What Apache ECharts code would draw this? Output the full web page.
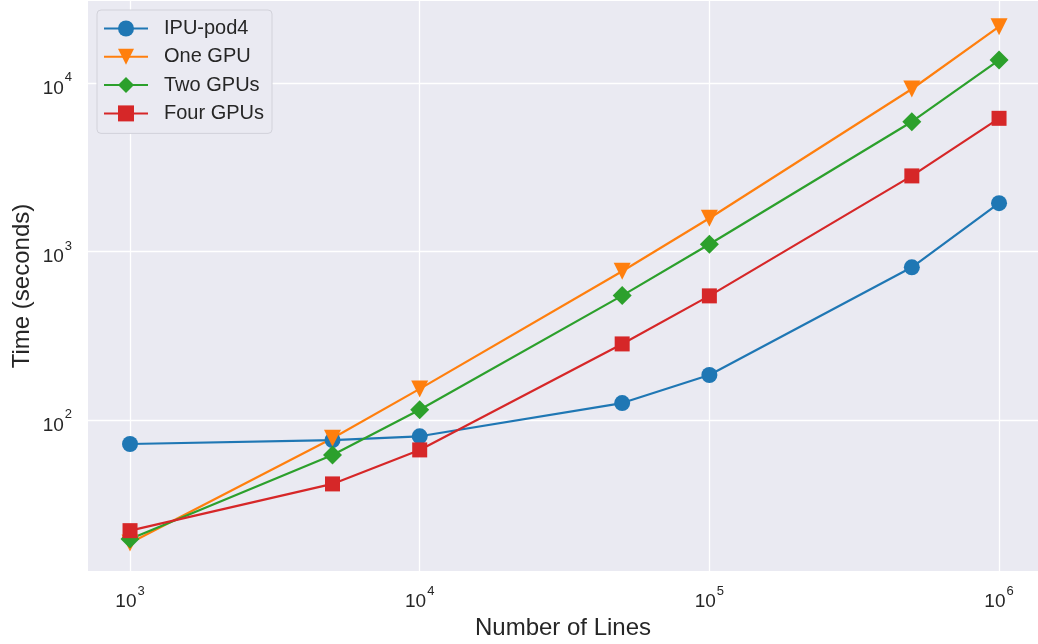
<!DOCTYPE html>
<html>
<head>
<meta charset="utf-8">
<script src="https://cdn.jsdelivr.net/npm/echarts@6/dist/echarts.min.js"></script>
<style>
  html, body { margin: 0; padding: 0; background: #fff; }
  #chart { width: 1038px; height: 644px; }
</style>
</head>
<body>
<div id="chart"></div>
<script>
// number of lines (x) and measured time in seconds (y)
var lines = [1000, 5000, 10000, 50000, 100000, 500000, 1000000];
var ipuPod4 = [72, 76, 80, 126, 185, 807, 1941];
var oneGpu = [18.6, 77.8, 153, 765, 1578, 9250, 21700];
var twoGpus = [19.6, 62, 115, 548, 1107, 5915, 13750];
var fourGpus = [22.0, 41.7, 66.4, 283, 546, 2818, 6195];

var textColor = "#262626";
var font = "Liberation Sans, Arial, sans-serif";

function pairs(ys) {
  return lines.map(function (x, i) {
    return [x, ys[i]];
  });
}

// 10^n label with superscript
function powLabel(v) {
  var e = Math.log10(v);
  var r = Math.round(e);
  if (Math.abs(e - r) > 1e-6) return "";
  return "{b|10}{s|" + r + "}";
}

var richLabel = {
  b: { fontSize: 19, color: textColor, fontFamily: font, lineHeight: 19, padding: [11, 0, 0, 0] },
  s: { fontSize: 13, color: textColor, fontFamily: font, lineHeight: 13, padding: [0, 0, 11, 1] }
};

function mkSeries(name, ys, color, symbol, size, rotate) {
  return {
    name: name,
    type: "line",
    data: pairs(ys),
    symbol: symbol,
    symbolSize: size,
    symbolRotate: rotate || 0,
    showAllSymbol: true,
    lineStyle: { color: color, width: 2.2 },
    itemStyle: { color: color, borderWidth: 0 },
    emphasis: { disabled: true },
    animation: false
  };
}

var myChart = echarts.init(document.getElementById("chart"));
myChart.setOption({
  backgroundColor: "#ffffff",
  textStyle: { fontFamily: font },
  grid: {
    left: 88,
    right: 0,
    top: 1,
    bottom: 73,
    outerBoundsMode: "none",
    containLabel: false,
    show: true,
    backgroundColor: "#eaeaf2",
    borderWidth: 0
  },
  legend: {
    orient: "vertical",
    left: 97,
    top: 10,
    padding: [8.5, 8, 10, 6],
    itemWidth: 44,
    itemHeight: 20,
    itemGap: 8.3,
    backgroundColor: "#eaeaf2",
    borderColor: "#d2d2da",
    borderWidth: 1,
    borderRadius: 4,
    textStyle: {
      fontSize: 20,
      lineHeight: 20,
      color: textColor,
      fontFamily: font,
      padding: [0, 0, 0, 11]
    },
    data: ["IPU-pod4", "One GPU", "Two GPUs", "Four GPUs"]
  },
  xAxis: {
    type: "log",
    logBase: 10,
    min: 716,
    max: 1363000,
    name: "Number of Lines",
    nameLocation: "middle",
    nameGap: 45,
    nameMoveOverlap: false,
    nameTextStyle: { fontSize: 24, color: textColor, fontFamily: font },
    axisLine: { show: false },
    axisTick: { show: false },
    minorTick: { show: false },
    axisLabel: {
      margin: 16,
      showMinLabel: false,
      showMaxLabel: false,
      formatter: powLabel,
      rich: richLabel
    },
    splitLine: {
      show: true,
      showMinLine: false,
      showMaxLine: false,
      lineStyle: { color: "#ffffff", width: 1.3 }
    }
  },
  yAxis: {
    type: "log",
    logBase: 10,
    min: 12.67,
    max: 30830,
    name: "Time (seconds)",
    nameLocation: "middle",
    nameGap: 54,
    nameMoveOverlap: false,
    nameTextStyle: { fontSize: 24, color: textColor, fontFamily: font },
    axisLine: { show: false },
    axisTick: { show: false },
    minorTick: { show: false },
    axisLabel: {
      margin: 16,
      showMinLabel: false,
      showMaxLabel: false,
      formatter: powLabel,
      rich: richLabel
    },
    splitLine: {
      show: true,
      showMinLine: false,
      showMaxLine: false,
      lineStyle: { color: "#ffffff", width: 1.3 }
    }
  },
  series: [
    mkSeries("IPU-pod4", ipuPod4, "#1f77b4", "circle", 16),
    mkSeries("One GPU", oneGpu, "#ff7f0e", "triangle", 17, 180),
    mkSeries("Two GPUs", twoGpus, "#2ca02c", "diamond", 19),
    mkSeries("Four GPUs", fourGpus, "#d62728", "rect", 15)
  ]
});
</script>
</body>
</html>
